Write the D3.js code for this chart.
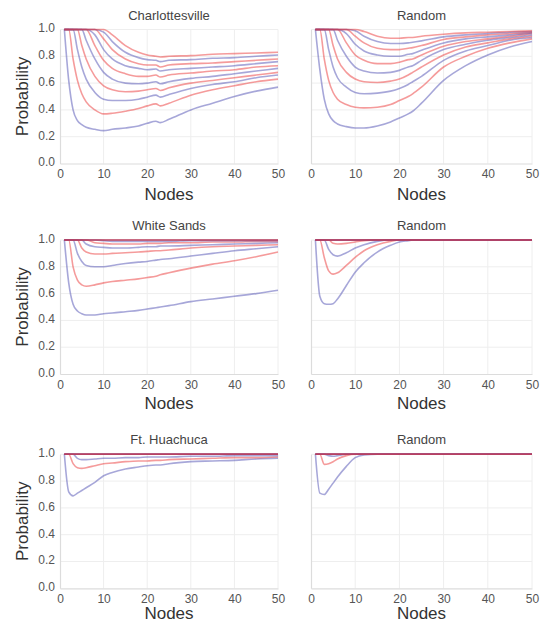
<!DOCTYPE html>
<html><head><meta charset="utf-8">
<script src="https://cdn.jsdelivr.net/npm/d3@7"></script>
<style>html,body{margin:0;padding:0;background:#fff}svg{display:block}</style>
</head><body>
<svg id="c" width="543" height="626"></svg>
<script>
const nodes = [1,2,3,4,5,6,8,10,12,15,18,20,22,23,25,30,35,40,45,50];
const xTicks = [0,10,20,30,40,50];
const yTicks = [0,0.2,0.4,0.6,0.8,1.0];
const titles = ["Charlottesville","Random","White Sands","Random","Ft. Huachuca","Random"];
const ones = nodes.map(() => 1);

const charlottesville = [
 [1,0.62,0.40,0.32,0.29,0.27,0.255,0.245,0.255,0.265,0.28,0.30,0.315,0.305,0.33,0.40,0.45,0.50,0.54,0.57],
 [1,1,0.78,0.62,0.52,0.46,0.40,0.37,0.375,0.39,0.41,0.43,0.445,0.43,0.45,0.51,0.55,0.58,0.61,0.63],
 [1,1,1,0.85,0.72,0.63,0.53,0.48,0.47,0.47,0.48,0.495,0.51,0.495,0.515,0.56,0.59,0.61,0.64,0.66],
 [1,1,1,1,0.88,0.78,0.65,0.58,0.55,0.535,0.54,0.55,0.56,0.545,0.565,0.60,0.62,0.64,0.66,0.68],
 [1,1,1,1,1,0.92,0.78,0.68,0.63,0.60,0.595,0.60,0.61,0.595,0.61,0.635,0.65,0.67,0.69,0.71],
 [1,1,1,1,1,1,0.88,0.77,0.71,0.67,0.65,0.65,0.66,0.645,0.66,0.675,0.69,0.70,0.72,0.73],
 [1,1,1,1,1,1,0.96,0.85,0.78,0.73,0.71,0.70,0.705,0.69,0.70,0.71,0.72,0.73,0.745,0.76],
 [1,1,1,1,1,1,1,0.93,0.85,0.78,0.745,0.735,0.735,0.72,0.735,0.745,0.75,0.76,0.77,0.78],
 [1,1,1,1,1,1,1,0.98,0.91,0.83,0.79,0.775,0.77,0.76,0.77,0.775,0.785,0.79,0.80,0.81],
 [1,1,1,1,1,1,1,1,0.96,0.88,0.83,0.81,0.80,0.795,0.80,0.805,0.815,0.82,0.825,0.83]
];
const randomA = [
 [1,0.70,0.48,0.37,0.32,0.295,0.275,0.265,0.265,0.28,0.31,0.34,0.37,0.39,0.45,0.62,0.73,0.81,0.87,0.91],
 [1,1,0.78,0.62,0.53,0.48,0.44,0.42,0.415,0.42,0.44,0.47,0.50,0.52,0.57,0.72,0.80,0.86,0.90,0.93],
 [1,1,1,0.85,0.72,0.64,0.57,0.53,0.52,0.525,0.54,0.56,0.59,0.61,0.65,0.77,0.84,0.88,0.92,0.94],
 [1,1,1,1,0.88,0.78,0.68,0.63,0.61,0.605,0.615,0.63,0.66,0.68,0.72,0.81,0.87,0.90,0.93,0.95],
 [1,1,1,1,1,0.92,0.80,0.72,0.69,0.675,0.68,0.695,0.72,0.73,0.77,0.85,0.89,0.92,0.94,0.96],
 [1,1,1,1,1,1,0.90,0.81,0.77,0.745,0.745,0.755,0.775,0.78,0.81,0.875,0.91,0.93,0.95,0.97],
 [1,1,1,1,1,1,0.97,0.89,0.84,0.81,0.80,0.80,0.815,0.82,0.845,0.90,0.93,0.945,0.96,0.975],
 [1,1,1,1,1,1,1,0.95,0.90,0.86,0.85,0.85,0.86,0.865,0.88,0.925,0.945,0.96,0.97,0.98],
 [1,1,1,1,1,1,1,0.99,0.95,0.91,0.895,0.895,0.90,0.905,0.915,0.945,0.96,0.97,0.98,0.985],
 [1,1,1,1,1,1,1,1,0.985,0.95,0.935,0.935,0.94,0.94,0.95,0.965,0.975,0.98,0.985,0.99]
];
const whiteSands = [
 [1,0.68,0.52,0.47,0.45,0.44,0.44,0.45,0.455,0.465,0.475,0.485,0.495,0.50,0.51,0.54,0.56,0.58,0.60,0.625],
 [1,1,0.80,0.70,0.665,0.655,0.665,0.68,0.69,0.70,0.71,0.72,0.73,0.74,0.755,0.79,0.82,0.845,0.875,0.91],
 [1,1,1,0.90,0.84,0.81,0.80,0.80,0.81,0.825,0.835,0.84,0.85,0.855,0.86,0.88,0.90,0.92,0.935,0.95],
 [1,1,1,1,0.94,0.91,0.895,0.895,0.90,0.905,0.91,0.915,0.92,0.92,0.925,0.94,0.95,0.955,0.96,0.965],
 [1,1,1,1,1,0.97,0.95,0.945,0.94,0.94,0.945,0.95,0.95,0.955,0.955,0.96,0.965,0.97,0.975,0.98],
 [1,1,1,1,1,1,0.98,0.975,0.97,0.97,0.97,0.975,0.975,0.975,0.98,0.98,0.985,0.985,0.99,0.99],
 [1,1,1,1,1,1,1,0.995,0.99,0.99,0.99,0.99,0.99,0.99,0.99,0.995,0.995,0.995,0.995,0.995],
 ones, ones, ones
];
const randomB = [
 [1,0.58,0.525,0.52,0.525,0.56,0.66,0.76,0.83,0.91,0.96,0.985,0.995,1,1,1,1,1,1,1],
 [1,1,0.87,0.77,0.745,0.755,0.81,0.87,0.92,0.965,0.99,1,1,1,1,1,1,1,1,1],
 [1,1,1,0.93,0.89,0.88,0.905,0.94,0.965,0.99,1,1,1,1,1,1,1,1,1,1],
 [1,1,1,1,0.975,0.97,0.975,0.985,0.995,1,1,1,1,1,1,1,1,1,1,1],
 ones, ones, ones, ones, ones, ones
];
const ftHuachuca = [
 [1,0.72,0.69,0.71,0.73,0.75,0.79,0.84,0.865,0.89,0.905,0.915,0.92,0.92,0.93,0.945,0.95,0.955,0.965,0.97],
 [1,1,0.93,0.90,0.895,0.90,0.915,0.93,0.935,0.945,0.95,0.95,0.955,0.955,0.96,0.965,0.97,0.975,0.975,0.98],
 [1,1,1,0.97,0.96,0.96,0.965,0.97,0.97,0.975,0.975,0.98,0.98,0.98,0.98,0.985,0.985,0.99,0.99,0.99],
 ones, ones, ones, ones, ones, ones, ones
];
const randomC = [
 [1,0.71,0.70,0.74,0.785,0.83,0.91,0.975,0.995,1,1,1,1,1,1,1,1,1,1,1],
 [1,1,0.925,0.93,0.945,0.965,0.99,1,1,1,1,1,1,1,1,1,1,1,1,1],
 [1,1,1,0.99,0.985,0.99,1,1,1,1,1,1,1,1,1,1,1,1,1,1],
 ones, ones, ones, ones, ones, ones, ones
];
const panelData = [charlottesville, randomA, whiteSands, randomB, ftHuachuca, randomC];
const seriesColors = ["#5050b4", "#eb3737"];

const svg = d3.select("#c");
const font = "Liberation Sans, Arial, Helvetica, sans-serif";
const cols = [[60,278],[311,532]];
const rowTops = [29.5, 240, 454.3];
const nodesOffset = [36, 35, 31];
const plotH = 134;

panelData.forEach((data, i) => {
  const col = i % 2, row = Math.floor(i / 2);
  const x = d3.scaleLinear().domain([0,50]).range(cols[col]);
  const y = d3.scaleLinear().domain([0,1]).range([rowTops[row] + plotH, rowTops[row]]);
  const g = svg.append("g");

  // grid
  g.selectAll(".gx").data(xTicks.slice(1)).join("line")
    .attr("x1", d => x(d)).attr("x2", d => x(d))
    .attr("y1", y(0)).attr("y2", y(1))
    .attr("stroke", "#eeeeee").attr("stroke-width", 1);
  g.selectAll(".gy").data(yTicks.slice(1)).join("line")
    .attr("x1", x(0)).attr("x2", x(50))
    .attr("y1", d => y(d)).attr("y2", d => y(d))
    .attr("stroke", "#eeeeee").attr("stroke-width", 1);

  // axes
  const xa = g.append("g").attr("transform", `translate(0,${y(0)})`)
    .call(d3.axisBottom(x).tickValues(xTicks).tickSize(0).tickPadding(6).tickFormat(d3.format("d")));
  xa.select(".domain").attr("stroke", "#dcdcdc").attr("stroke-width", 1.2);
  xa.selectAll("text").attr("font-family", font).attr("font-size", 12).attr("fill", "#555");

  const ya = g.append("g").attr("transform", `translate(${x(0)},0)`)
    .call(d3.axisLeft(y).tickValues(yTicks).tickSize(0).tickPadding(5).tickFormat(d3.format(".1f")));
  ya.select(".domain").attr("stroke", "#dcdcdc").attr("stroke-width", 1.2);
  ya.selectAll("text").attr("font-family", font).attr("font-size", 12).attr("fill", "#555")
    .attr("dy", "0.2em");
  if (col === 1) ya.selectAll("text").remove();

  // lines
  const line = d3.line().x((d, k) => x(nodes[k])).y(d => y(d)).curve(d3.curveMonotoneX);
  data.forEach((s, k) => {
    g.append("path").datum(s).attr("d", line)
      .attr("fill", "none")
      .attr("stroke", seriesColors[k % 2])
      .attr("stroke-opacity", 0.5)
      .attr("stroke-width", 1.6)
      .attr("stroke-linejoin", "round");
  });

  // title
  g.append("text").attr("x", (cols[col][0] + cols[col][1]) / 2).attr("y", rowTops[row] - 10)
    .attr("text-anchor", "middle").attr("font-family", font).attr("font-size", 13)
    .attr("fill", "#444").text(titles[i]);

  // x label
  g.append("text").attr("x", (cols[col][0] + cols[col][1]) / 2).attr("y", y(0) + nodesOffset[row])
    .attr("text-anchor", "middle").attr("font-family", font).attr("font-size", 17)
    .attr("fill", "#333").text("Nodes");

  if (col === 0) {
    g.append("text")
      .attr("transform", `translate(28,${(y(0) + y(1)) / 2}) rotate(-90)`)
      .attr("text-anchor", "middle").attr("font-family", font).attr("font-size", 17)
      .attr("fill", "#333").text("Probability");
  }
});
</script>
</body></html>
